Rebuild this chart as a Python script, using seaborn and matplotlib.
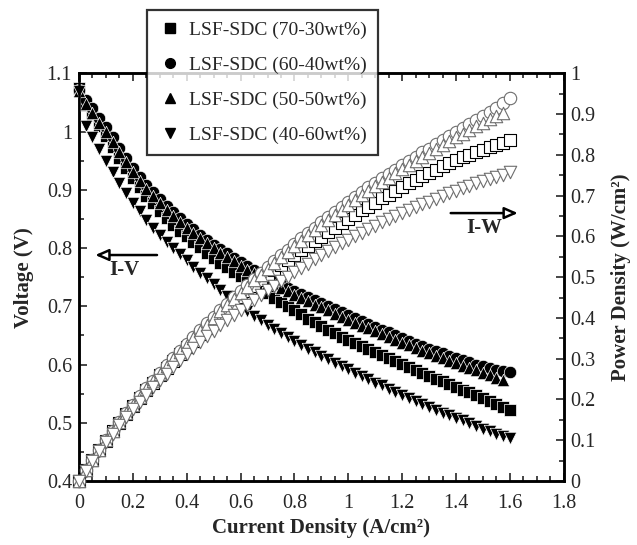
import matplotlib
matplotlib.use("Agg")
import matplotlib.pyplot as plt
import seaborn as sns
import pandas as pd
from matplotlib.ticker import MultipleLocator

# Current density (A/cm2) at which each cell was measured
current = [0.000, 0.025, 0.050, 0.075, 0.100, 0.125, 0.150, 0.175, 0.200, 0.225,
           0.250, 0.275, 0.300, 0.325, 0.350, 0.375, 0.400, 0.425, 0.450, 0.475,
           0.500, 0.525, 0.550, 0.575, 0.600, 0.625, 0.650, 0.675, 0.700, 0.725,
           0.750, 0.775, 0.800, 0.825, 0.850, 0.875, 0.900, 0.925, 0.950, 0.975,
           1.000, 1.025, 1.050, 1.075, 1.100, 1.125, 1.150, 1.175, 1.200, 1.225,
           1.250, 1.275, 1.300, 1.325, 1.350, 1.375, 1.400, 1.425, 1.450, 1.475,
           1.500, 1.525, 1.550, 1.575, 1.600]

# Cell voltage (V) for each cathode composition
v_70_30 = [1.075, 1.045, 1.028, 1.010, 0.992, 0.974, 0.955, 0.937, 0.920, 0.904,
           0.890, 0.877, 0.864, 0.852, 0.840, 0.830, 0.820, 0.810, 0.801, 0.792,
           0.783, 0.775, 0.767, 0.759, 0.752, 0.744, 0.737, 0.729, 0.722, 0.715,
           0.708, 0.700, 0.693, 0.686, 0.679, 0.673, 0.666, 0.660, 0.654, 0.648,
           0.642, 0.637, 0.632, 0.626, 0.621, 0.616, 0.611, 0.606, 0.601, 0.596,
           0.591, 0.586, 0.581, 0.576, 0.572, 0.567, 0.562, 0.557, 0.552, 0.547,
           0.542, 0.537, 0.532, 0.527, 0.522]
v_60_40 = [1.072, 1.055, 1.040, 1.024, 1.008, 0.990, 0.972, 0.955, 0.937, 0.922,
           0.909, 0.896, 0.884, 0.873, 0.862, 0.851, 0.841, 0.832, 0.823, 0.814,
           0.806, 0.798, 0.791, 0.783, 0.776, 0.769, 0.763, 0.756, 0.750, 0.744,
           0.738, 0.732, 0.727, 0.721, 0.716, 0.710, 0.705, 0.700, 0.695, 0.690,
           0.685, 0.680, 0.675, 0.670, 0.665, 0.660, 0.655, 0.650, 0.645, 0.641,
           0.636, 0.632, 0.627, 0.623, 0.619, 0.615, 0.611, 0.607, 0.604, 0.600,
           0.597, 0.594, 0.591, 0.589, 0.587]
v_50_50 = [1.070, 1.048, 1.031, 1.015, 0.999, 0.982, 0.965, 0.947, 0.930, 0.915,
           0.902, 0.889, 0.877, 0.866, 0.855, 0.845, 0.835, 0.826, 0.817, 0.808,
           0.800, 0.792, 0.784, 0.777, 0.770, 0.763, 0.757, 0.750, 0.744, 0.738,
           0.732, 0.726, 0.720, 0.714, 0.709, 0.703, 0.698, 0.693, 0.687, 0.682,
           0.677, 0.672, 0.667, 0.662, 0.657, 0.652, 0.647, 0.642, 0.637, 0.633,
           0.628, 0.624, 0.619, 0.615, 0.611, 0.606, 0.602, 0.598, 0.594, 0.590,
           0.586, 0.582, 0.577, 0.573]
v_40_60 = [1.070, 1.010, 0.990, 0.970, 0.950, 0.931, 0.912, 0.895, 0.878, 0.863,
           0.848, 0.835, 0.822, 0.811, 0.800, 0.789, 0.779, 0.768, 0.758, 0.748,
           0.738, 0.728, 0.718, 0.709, 0.700, 0.692, 0.684, 0.676, 0.668, 0.661,
           0.654, 0.647, 0.640, 0.634, 0.627, 0.621, 0.615, 0.609, 0.603, 0.598,
           0.592, 0.586, 0.580, 0.575, 0.569, 0.564, 0.558, 0.553, 0.547, 0.542,
           0.537, 0.532, 0.527, 0.522, 0.517, 0.513, 0.508, 0.504, 0.499, 0.495,
           0.490, 0.486, 0.481, 0.477, 0.473]

labels = ["LSF-SDC (70-30wt%)", "LSF-SDC (60-40wt%)",
          "LSF-SDC (50-50wt%)", "LSF-SDC (40-60wt%)"]
voltages = [v_70_30, v_60_40, v_50_50, v_40_60]
markers = ["s", "o", "^", "v"]
open_edges = ["black", "#6e6e6e", "#6e6e6e", "#6e6e6e"]

frames = []
for lab, volts in zip(labels, voltages):
    i = current[:len(volts)]
    frames.append(pd.DataFrame({"composition": lab, "current": i, "voltage": volts,
                                "power": [a * b for a, b in zip(i, volts)]}))
data = pd.concat(frames, ignore_index=True)

sns.set_style("ticks")
plt.rcParams["font.family"] = ["Liberation Serif", "DejaVu Serif"]

fig = plt.figure(figsize=(6.37, 5.45), dpi=100)
ax = fig.add_axes([0.124, 0.1174, 0.761, 0.7481])
ax2 = ax.twinx()

# Voltage curves (filled symbols)
for lab, mk in zip(labels, markers):
    sub = data[data["composition"] == lab]
    sns.scatterplot(data=sub, x="current", y="voltage", marker=mk, s=80,
                    color="black", edgecolor="white", linewidth=0.5,
                    ax=ax, zorder=3, clip_on=False, legend=False)

# Power density curves (open symbols)
for lab, mk, ec in zip(labels, markers, open_edges):
    sub = data[data["composition"] == lab]
    sns.scatterplot(data=sub, x="current", y="power", marker=mk, s=80,
                    facecolor="white", edgecolor=ec, linewidth=0.8,
                    ax=ax2, zorder=3, clip_on=False, legend=False)

ax.set_xlim(0, 1.8)
ax.set_ylim(0.4, 1.1)
ax2.set_ylim(0, 1.0)

ax.xaxis.set_major_locator(MultipleLocator(0.2))
ax.xaxis.set_minor_locator(MultipleLocator(0.05))
ax.yaxis.set_major_locator(MultipleLocator(0.1))
ax.yaxis.set_minor_locator(MultipleLocator(0.05))
ax2.yaxis.set_major_locator(MultipleLocator(0.1))
ax2.yaxis.set_minor_locator(MultipleLocator(0.05))

fmt = lambda v, p: ("%g" % round(v, 2))
ax.xaxis.set_major_formatter(plt.FuncFormatter(fmt))
ax.yaxis.set_major_formatter(plt.FuncFormatter(fmt))
ax2.yaxis.set_major_formatter(plt.FuncFormatter(fmt))

ax.tick_params(which="both", direction="in", top=True, right=False,
               width=1.2, labelsize=14.5, pad=5)
ax.tick_params(axis="x", pad=9)
ax.tick_params(which="major", length=6)
ax.tick_params(which="minor", length=3.5)
ax2.tick_params(which="both", direction="in", width=1.2, labelsize=14.5, pad=5)
ax2.tick_params(which="major", length=6)
ax2.tick_params(which="minor", length=3.5)

for a in (ax, ax2):
    for sp in a.spines.values():
        sp.set_linewidth(1.8)
        sp.set_color("black")

ax.set_xlabel("Current Density (A/cm²)", fontsize=15, fontweight="bold", labelpad=4)
ax.set_ylabel("Voltage (V)", fontsize=15, fontweight="bold", labelpad=9)
ax2.set_ylabel("Power Density (W/cm²)", fontsize=15, fontweight="bold", labelpad=11)

# Direction arrows for the two families of curves
ax.annotate("", xy=(0.05, 0.788), xytext=(0.30, 0.788),
            arrowprops=dict(arrowstyle="-|>,head_length=0.8,head_width=0.35",
                            fc="white", ec="black", lw=1.8))
ax.text(0.17, 0.762, "I-V", fontsize=15, fontweight="bold", ha="center", va="center")
ax.annotate("", xy=(1.64, 0.860), xytext=(1.37, 0.860),
            arrowprops=dict(arrowstyle="-|>,head_length=0.8,head_width=0.35",
                            fc="white", ec="black", lw=1.8))
ax.text(1.505, 0.834, "I-W", fontsize=15, fontweight="bold", ha="center", va="center")

# Legend with filled symbols
handles = [plt.Line2D([], [], marker=mk, ls="none", color="black", markersize=7)
           for mk in markers]
leg = fig.legend(handles, labels, loc="upper left",
                 bbox_to_anchor=(147 / 637, 1 - 10 / 545),
                 frameon=True, fancybox=False, fontsize=14,
                 handletextpad=0.35, borderpad=0.6, labelspacing=0.88,
                 handlelength=1.2, borderaxespad=0)
leg.get_frame().set_edgecolor("black")
leg.get_frame().set_linewidth(1.6)
leg.set_zorder(10)

fig.savefig("out.png", dpi=100)
